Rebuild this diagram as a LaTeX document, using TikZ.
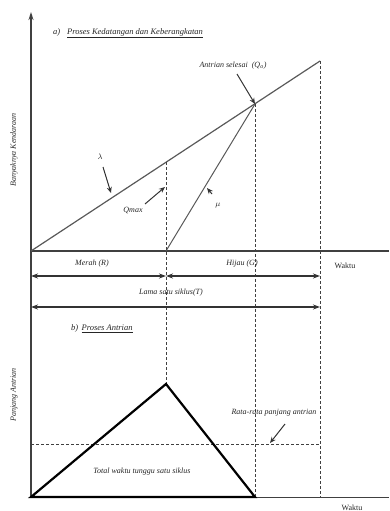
\documentclass[tikz,border=0pt]{standalone}
\usepackage{fontspec}
\setmainfont{Liberation Serif}
\usetikzlibrary{arrows.meta}
\begin{document}
\begin{tikzpicture}[x=1pt,y=-1pt,
  lbl/.style={font=\fontsize{8}{9}\selectfont\itshape, inner sep=1pt, text=black!85},
  upr/.style={font=\fontsize{8}{9}\selectfont, inner sep=1pt, text=black!85},
  ttl/.style={font=\fontsize{8.5}{10}\selectfont\itshape, inner sep=1pt, text=black!85},
  ax/.style={line width=1.3pt, draw=black!75},
  ln/.style={line width=1.2pt, draw=black!65},
  dsh/.style={line width=0.8pt, dash pattern=on 3pt off 2pt, draw=black!75},
  ptr/.style={-{Stealth[length=6pt,width=5pt]}, line width=1pt, draw=black!80},
  dbl/.style={{Stealth[length=7pt,width=5pt]}-{Stealth[length=7pt,width=5pt]}, line width=1.2pt, draw=black!80},
  thk/.style={line width=2.2pt, line join=miter}]
\useasboundingbox (0,0) rectangle (389,511);
% key points
\coordinate (O) at (31,251);
\coordinate (Ytop) at (31,12);
\coordinate (Xend) at (389,251);
\coordinate (Lend) at (320,61);
\coordinate (Qm) at (166,162);
\coordinate (Qmb) at (166,251);
\coordinate (Qo) at (255,104);
\coordinate (Tt) at (320,61);
\coordinate (Bo) at (31,497);
\coordinate (Bend) at (389,497);
\coordinate (Apex) at (166,384);
\coordinate (Bq) at (255,497);
\coordinate (Bt) at (320,497);
\coordinate (Dl) at (31,444);
\coordinate (Dr) at (320,444);
% axes
\draw[ax,-{Stealth[length=8pt,width=5pt]}] (Bo) -- (Ytop);
\draw[ax] (O) -- (Xend);
\draw[ax, line width=1pt] (Bo) -- (Bend);
% lambda and mu
\draw[ln] (O) -- (Lend);
\draw[ln, line width=1pt] (Qmb) -- (Qo);
% dashed verticals
\draw[dsh] (Qm) -- (Apex);
\draw[dsh] (Qo) -- (Bq);
\draw[dsh] (Tt) -- (Bt);
\draw[dsh] (Dl) -- (Dr);
% triangle
\draw[thk] (Bo) -- (Apex) -- (Bq) -- cycle;
% titles
\node[ttl, anchor=west] (ta) at (52,33) {a)\hspace{0.8em}\underline{Proses Kedatangan dan Keberangkatan}};
\node[ttl, anchor=west] (tb) at (70,329) {b)\hspace{0.4em}\underline{Proses Antrian}};
% axis labels
\node[lbl, rotate=90] (yl1) at (14,150) {Banyaknya Kendaraan};
\node[lbl, rotate=90] (yl2) at (14,395) {Panjang Antrian};
% labels with pointers
\node[lbl] (aq) at (233,66) {Antrian selesai\ \ (Q\textsubscript{o})};
\draw[ptr] (237,74) -- (Qo);
\node[lbl] (lam) at (100,157) {$\lambda$};
\coordinate (lamt) at (111,193);
\draw[ptr] (103,167) -- (lamt);
\node[lbl] (qmx) at (133,210) {Qmax};
\coordinate (qmt) at (165,187);
\draw[ptr] (145,204) -- (qmt);
\node[lbl] (mu) at (218,206) {$\mu$};
\coordinate (mut) at (207,188);
\draw[ptr] (212,194) -- (mut);
% interval labels
\node[lbl] (mr) at (92,264) {Merah (R)};
\node[lbl] (hj) at (242,264) {Hijau (G)};
\node[upr] (wk) at (345,266) {Waktu};
\coordinate (a1) at (31,276);
\coordinate (a2) at (166,276);
\coordinate (a3) at (320,276);
\draw[dbl] (a1) -- (a2);
\draw[dbl] (a2) -- (a3);
\node[lbl] (lm) at (171,293) {Lama satu siklus(T)};
\coordinate (b1) at (31,307);
\coordinate (b2) at (320,307);
\draw[dbl] (b1) -- (b2);
% lower labels
\node[lbl] (rr) at (274,413) {Rata-rata panjang antrian};
\coordinate (rrt) at (270,443);
\draw[ptr] (285,424) -- (rrt);
\node[lbl] (tw) at (142,472) {Total waktu tunggu satu siklus};
\node[upr] (wk2) at (352,508) {Waktu};
\end{tikzpicture}
\end{document}
